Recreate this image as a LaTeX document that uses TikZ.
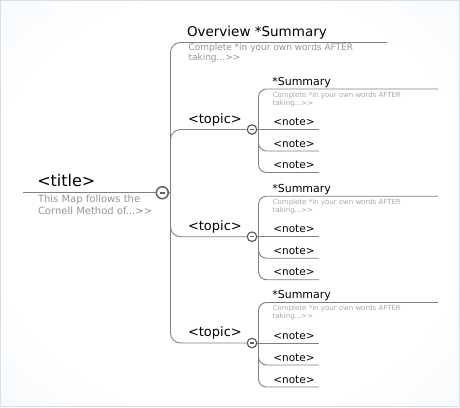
\documentclass[tikz,border=0pt]{standalone}
\usepackage{fontspec}
\setmainfont{DejaVu Sans}[Ligatures=TeXOff]
\usetikzlibrary{calc}

\definecolor{linegray}{RGB}{128,128,128}
\definecolor{hintgray}{RGB}{150,150,150}
\definecolor{faintgray}{RGB}{168,168,168}
\definecolor{ringgray}{RGB}{95,95,95}
\definecolor{edgeblue}{RGB}{231,236,243}
\definecolor{framecol}{RGB}{214,222,232}

\pgfdeclareradialshading{vignette}{\pgfpoint{0bp}{0bp}}{color(0bp)=(white); color(26bp)=(white); color(50bp)=(edgeblue!75!white); color(72bp)=(edgeblue)}

\tikzset{
  branch/.style={linegray, line width=0.9pt, rounded corners=10pt},
  twig/.style={linegray, line width=0.9pt, rounded corners=8pt},
  knob/.style={circle, draw=ringgray, fill=white, line width=1.5pt, minimum size=12pt, inner sep=0pt,
    path picture={\draw[ringgray, line width=1.7pt] ([xshift=-2.7pt]path picture bounding box.center) -- ([xshift=2.7pt]path picture bounding box.center);}},
  smallknob/.style={circle, draw=ringgray, fill=white, line width=1.2pt, minimum size=9.5pt, inner sep=0pt,
    path picture={\draw[ringgray, line width=1.3pt] ([xshift=-2pt]path picture bounding box.center) -- ([xshift=2pt]path picture bounding box.center);}},
  label/.style={anchor=base west, inner sep=0pt, outer sep=0pt},
  hint/.style={label, align=left, hintgray},
  subhint/.style={label, align=left, faintgray, font=\fontsize{7}{6.7}\selectfont},
}

\begin{document}
\begin{tikzpicture}[x=1pt, y=-1pt]
\useasboundingbox (0,0) rectangle (460,407);
\shade[shading=vignette] (0,0) rectangle (460,407);
\draw[framecol, line width=0.8pt] (0.5,0.5) rectangle (459.5,406.5);

% central topic
\coordinate (L) at (23,192.7);
\coordinate (H) at (170.5,192.7);
\coordinate (OV) at (387,42.5);
\node[knob] (K0) at (162.3,192.7) {};
\node[smallknob] (K1) at (252,129.5) {};
\node[smallknob] (K2) at (252,236.7) {};
\node[smallknob] (K3) at (252,343) {};
\draw[branch] (L) -- (K0.west);
\draw[branch] (K0.east) -- (H);
\draw[branch] (H) |- (OV);
\draw[branch] (H) |- (K1.west);
\draw[branch] (H) |- (K2.west);
\draw[branch] (H) |- (K3.west);

% hint nodes sit on the baseline of their last line
\node[label, font=\fontsize{16}{19}\selectfont] (title) at (37.3,186) {<title>};
\node[hint, font=\fontsize{10}{12}\selectfont] (titlehint) at (38,214.3) {This Map follows the\\Cornell Method of...>>};
\node[label, font=\fontsize{13.5}{16}\selectfont] (overview) at (187,36) {Overview *Summary};
\node[hint, font=\fontsize{9}{7.4}\selectfont] (overviewhint) at (188.5,60.7) {Complete *in your own words AFTER\\taking...>>};

% first topic
\coordinate (H1) at (258.5,129.5);
\coordinate (S1) at (438,89);
\coordinate (N1a) at (319,129.5);
\coordinate (N1b) at (319,151);
\coordinate (N1c) at (319,172.5);
\draw[twig] (K1.east) -- (N1a);
\draw[twig] (H1) |- (S1);
\draw[twig] (H1) |- (N1b);
\draw[twig] (H1) |- (N1c);
\node[label, font=\fontsize{13}{16}\selectfont] (topic1) at (188,123) {<topic>};
\node[label, font=\fontsize{11}{13}\selectfont] (sum1) at (272.3,85) {*Summary};
\node[subhint] (hint1) at (272.8,105) {Complete *in your own words AFTER\\taking...>>};
\node[label, font=\fontsize{10.5}{12}\selectfont] at (273.3,125.5) {<note>};
\node[label, font=\fontsize{10.5}{12}\selectfont] at (273.3,147) {<note>};
\node[label, font=\fontsize{10.5}{12}\selectfont] at (273.3,168.5) {<note>};

% second topic
\coordinate (H2) at (258.5,236.7);
\coordinate (S2) at (438,196.2);
\coordinate (N2a) at (319,236.7);
\coordinate (N2b) at (319,258.2);
\coordinate (N2c) at (319,279.7);
\draw[twig] (K2.east) -- (N2a);
\draw[twig] (H2) |- (S2);
\draw[twig] (H2) |- (N2b);
\draw[twig] (H2) |- (N2c);
\node[label, font=\fontsize{13}{16}\selectfont] (topic2) at (188,230.2) {<topic>};
\node[label, font=\fontsize{11}{13}\selectfont] (sum2) at (272.3,192.2) {*Summary};
\node[subhint] (hint2) at (272.8,212.2) {Complete *in your own words AFTER\\taking...>>};
\node[label, font=\fontsize{10.5}{12}\selectfont] at (273.3,232.7) {<note>};
\node[label, font=\fontsize{10.5}{12}\selectfont] at (273.3,254.2) {<note>};
\node[label, font=\fontsize{10.5}{12}\selectfont] at (273.3,275.7) {<note>};

% third topic
\coordinate (H3) at (258.5,343);
\coordinate (S3) at (438,302.5);
\coordinate (N3a) at (319,343);
\coordinate (N3b) at (319,365);
\coordinate (N3c) at (319,387);
\draw[twig] (K3.east) -- (N3a);
\draw[twig] (H3) |- (S3);
\draw[twig] (H3) |- (N3b);
\draw[twig] (H3) |- (N3c);
\node[label, font=\fontsize{13}{16}\selectfont] (topic3) at (188,336.5) {<topic>};
\node[label, font=\fontsize{11}{13}\selectfont] (sum3) at (272.3,298.5) {*Summary};
\node[subhint] (hint3) at (272.8,318.5) {Complete *in your own words AFTER\\taking...>>};
\node[label, font=\fontsize{10.5}{12}\selectfont] at (273.3,339) {<note>};
\node[label, font=\fontsize{10.5}{12}\selectfont] at (273.3,361) {<note>};
\node[label, font=\fontsize{10.5}{12}\selectfont] at (273.3,383) {<note>};

\end{tikzpicture}
\end{document}
